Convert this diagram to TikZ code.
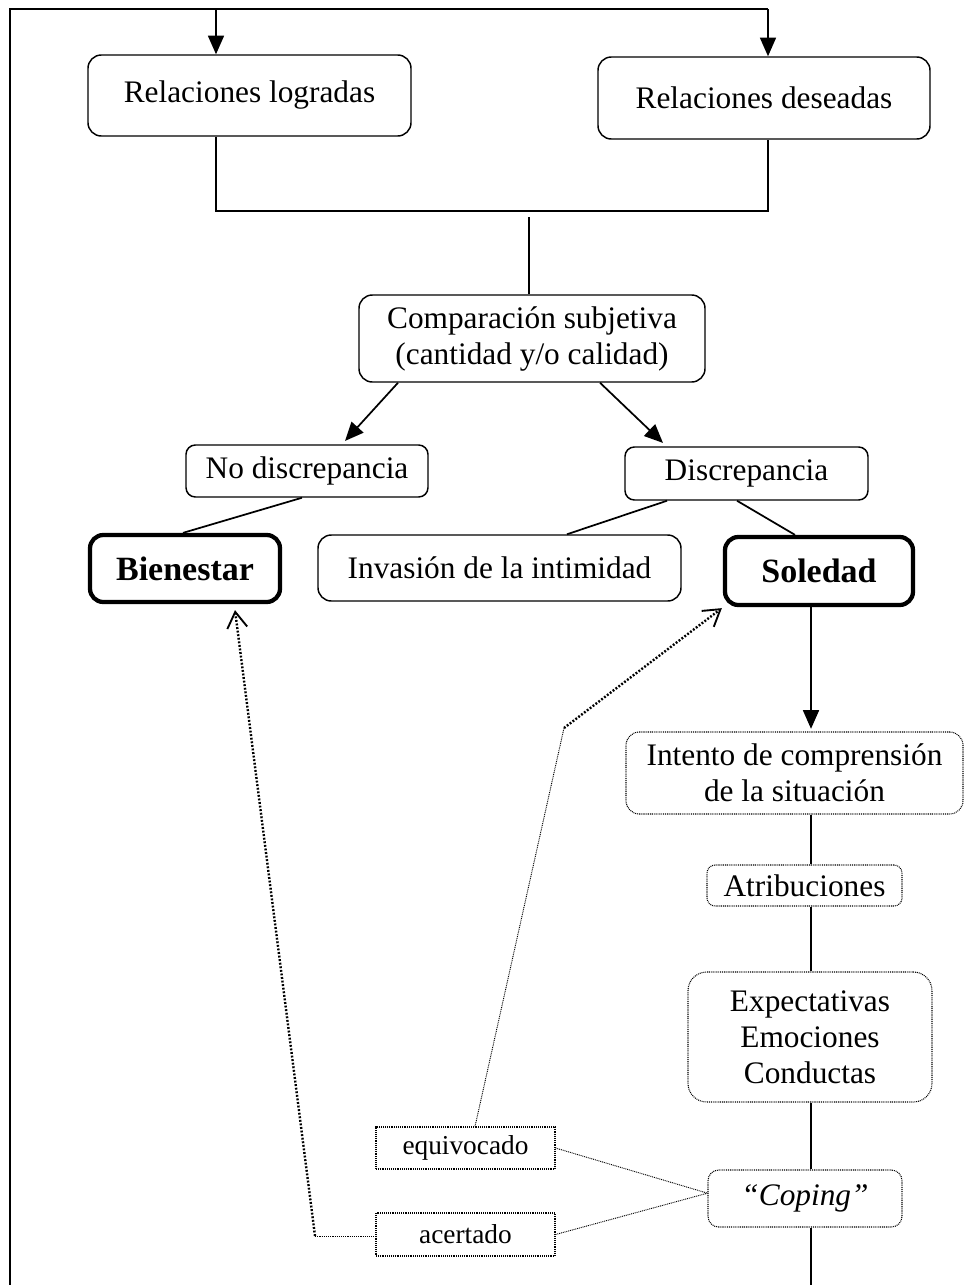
\documentclass[tikz,border=0pt]{standalone}
\usepackage{fontspec}
\setmainfont{Liberation Serif}
\usetikzlibrary{arrows.meta}
\begin{document}
\begin{tikzpicture}[x=0.75pt,y=-0.75pt,
  box/.style={draw,rounded corners=10pt,line width=1.1pt,inner sep=0pt,align=center,
    font=\fontsize{23.5}{27}\selectfont},
  strong/.style={box,line width=3.2pt,font=\fontsize{25.5}{28}\selectfont\bfseries},
  dotbox/.style={box,line width=0.8pt,dash pattern=on 0.7pt off 0.7pt},
  sqbox/.style={dotbox,rounded corners=0pt,font=\fontsize{20.5}{24}\selectfont},
  link/.style={line width=1.3pt},
  arr/.style={link,-{Triangle[length=14pt,width=12pt]}},
  thindot/.style={line width=0.7pt,dash pattern=on 0.7pt off 0.7pt},
  bigdot/.style={line width=1.8pt,dash pattern=on 1.4pt off 1.3pt,
    -{Straight Barb[length=12pt,width=15pt,line width=1.4pt]}}]
\useasboundingbox (0,0) rectangle (965,1285);

% boxes (sizes given in pixels of the 965 x 1285 canvas)
\node[box,minimum width={323*0.75pt},minimum height={81*0.75pt}] (rl) at (249.5,95.5) {Relaciones logradas};
\node[box,minimum width={332*0.75pt},minimum height={82*0.75pt}] (rd) at (764,98) {Relaciones deseadas};
\node[box,minimum width={346*0.75pt},minimum height={87*0.75pt}] (cmp) at (532,338.5) {Comparación subjetiva\\(cantidad y/o calidad)};
\node[box,rounded corners=7pt,minimum width={242*0.75pt},minimum height={52*0.75pt}] (nod) at (307,471) {No discrepancia};
\node[box,rounded corners=7pt,minimum width={243*0.75pt},minimum height={53*0.75pt}] (dis) at (746.5,473.5) {Discrepancia};
\node[strong,minimum width={190*0.75pt},minimum height={67*0.75pt}] (bien) at (185,568.5) {Bienestar};
\node[box,minimum width={363*0.75pt},minimum height={66*0.75pt}] (inv) at (499.5,568) {Invasión de la intimidad};
\node[strong,minimum width={188*0.75pt},minimum height={68*0.75pt}] (sol) at (819,571) {Soledad};
\node[dotbox,minimum width={337*0.75pt},minimum height={82*0.75pt}] (int) at (794.5,773) {Intento de comprensión\\de la situación};
\node[dotbox,rounded corners=6pt,minimum width={195*0.75pt},minimum height={41*0.75pt}] (atr) at (804.5,885.5) {Atribuciones};
\node[dotbox,rounded corners=14pt,minimum width={244*0.75pt},minimum height={130*0.75pt}] (exp) at (810,1037) {Expectativas\\Emociones\\Conductas};
\node[dotbox,rounded corners=8pt,minimum width={194*0.75pt},minimum height={57*0.75pt}] (cop) at (805,1198.5) {\itshape “Coping”};
\node[sqbox,minimum width={179*0.75pt},minimum height={42*0.75pt}] (equ) at (465.5,1148) {equivocado};
\node[sqbox,minimum width={179*0.75pt},minimum height={43*0.75pt}] (ace) at (465.5,1234.5) {acertado};

% free ends
\coordinate (bl) at (10,1285);
\coordinate (tl) at (10,9);
\coordinate (tr) at (768,9);
\coordinate (ta) at (216,9);
\coordinate (jl) at (216,211);
\coordinate (jr) at (768,211);
\coordinate (jm) at (529,217);
\coordinate (bot) at (811,1285);
\coordinate (k1) at (564,728);
\coordinate (k2) at (315,1236);

% top feedback frame
\draw[link] (bl) -- (tl) -- (tr);
\draw[arr] (ta) -- (rl.north -| ta);
\draw[arr] (tr) -- (rd.north -| tr);

% joining bracket
\draw[link] (rl.south -| jl) -- (jl) -- (jr) -- (rd.south -| jr);
\draw[link] (jm) -- (cmp.north -| jm);

% comparison outcomes
\draw[arr] (cmp.south -| 398,0) -- ([yshift=2.5pt]nod.north -| 345,0);
\draw[arr] (cmp.south -| 600,0) -- ([yshift=2.5pt]dis.north -| 663,0);
\draw[link] (nod.south -| 302,0) -- (bien.north -| 183,0);
\draw[link] (dis.south -| 667,0) -- (inv.north -| 567,0);
\draw[link] (dis.south -| 737,0) -- (sol.north -| 795,0);

% loneliness chain
\draw[arr] (sol.south -| bot) -- ([yshift=2pt]int.north -| bot);
\draw[link] (int.south -| bot) -- (atr.north -| bot);
\draw[link] (atr.south -| bot) -- (exp.north -| bot);
\draw[link] (exp.south -| bot) -- (cop.north -| bot);
\draw[link] (cop.south -| bot) -- (bot);

% coping outcomes
\draw[thindot] (equ.east) -- ([yshift=4pt]cop.west);
\draw[thindot] (ace.east) -- ([yshift=4pt]cop.west);
\draw[thindot] (equ.north -| 475,0) -- (k1);
\draw[bigdot] (k1) -- ([shift={(-1,1)}]sol.south west);
\draw[thindot] (ace.west |- k2) -- (k2);
\draw[bigdot] (k2) -- ([yshift=-4.5pt]bien.south -| 235,0);
\end{tikzpicture}
\end{document}
